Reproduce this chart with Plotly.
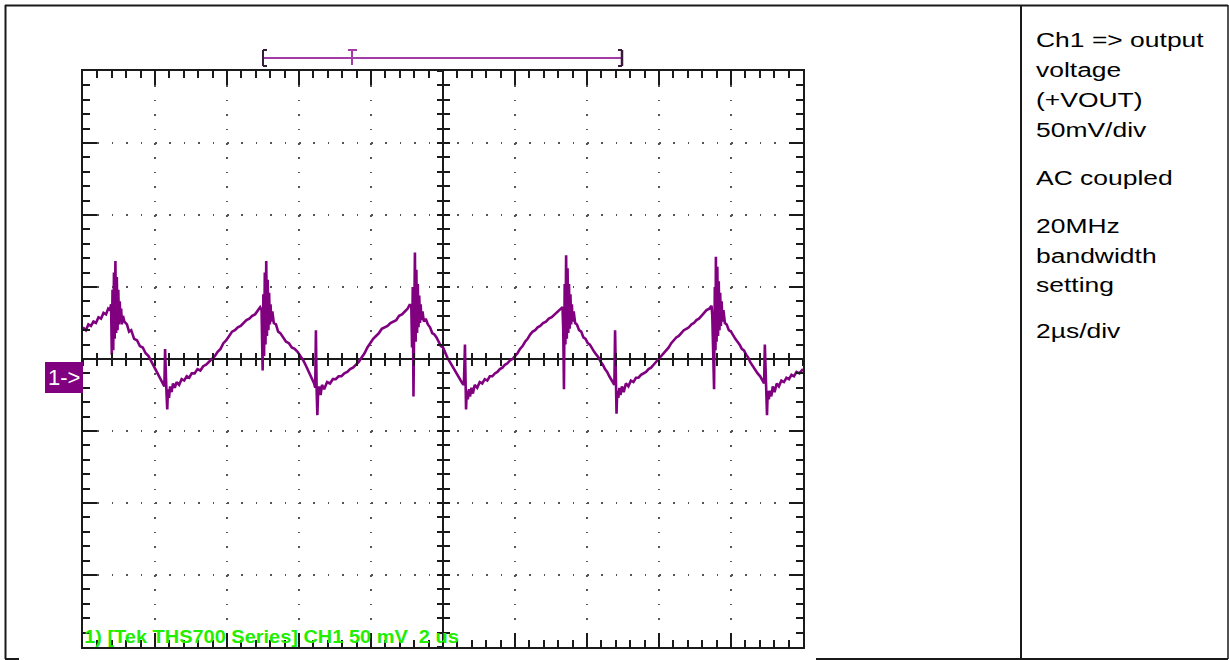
import json
import plotly.graph_objects as go

W, H = 1229, 660

# ---------------- data ----------------
time_us = [
    -10.00, -9.92, -9.85, -9.78, -9.71, -9.64, -9.57, -9.50, -9.43, -9.36, -9.30, -9.25, -9.22,
    -9.20, -9.18, -9.16, -9.14, -9.12, -9.10, -9.08, -9.06, -9.04, -9.02, -9.00, -8.98, -8.96, -8.94, -8.92, -8.89, -8.85,
    -8.78, -8.72, -8.66, -8.58, -8.50, -8.42, -8.34, -8.26, -8.18, -8.10, -8.02, -7.94, -7.86, -7.80,
    -7.74, -7.72, -7.70, -7.68, -7.66, -7.64, -7.61, -7.58, -7.54, -7.50, -7.45,
    -7.40, -7.33, -7.26, -7.19, -7.12, -7.05, -6.98, -6.90, -6.82, -6.74, -6.66, -6.58, -6.50, -6.42, -6.34, -6.26,
    -6.18, -6.10, -6.02, -5.94, -5.86, -5.78, -5.70, -5.62, -5.54, -5.46, -5.38, -5.30, -5.22, -5.14, -5.08,
    -5.04, -5.01, -4.99, -4.97, -4.95, -4.93, -4.91, -4.89, -4.87, -4.85, -4.83, -4.81, -4.79, -4.77, -4.74, -4.70,
    -4.64, -4.58, -4.52, -4.44, -4.36, -4.28, -4.20, -4.12, -4.04, -3.96, -3.88, -3.80, -3.72, -3.64, -3.58,
    -3.55, -3.53, -3.51, -3.49, -3.47, -3.44, -3.40, -3.36, -3.30,
    -3.22, -3.14, -3.06, -2.98, -2.90, -2.82, -2.74, -2.66, -2.58, -2.50, -2.42, -2.34, -2.26, -2.18, -2.10,
    -2.02, -1.94, -1.86, -1.78, -1.70, -1.62, -1.54, -1.46, -1.38, -1.30, -1.22, -1.14, -1.06, -0.98, -0.92,
    -0.88, -0.86, -0.84, -0.82, -0.80, -0.78, -0.76, -0.74, -0.72, -0.70, -0.68, -0.66, -0.64, -0.62, -0.60, -0.57, -0.53, -0.48,
    -0.42, -0.36, -0.30, -0.24, -0.18, -0.12, -0.06, 0.00, 0.06, 0.12, 0.19, 0.26, 0.33, 0.40, 0.47, 0.54, 0.58,
    0.61, 0.63, 0.64, 0.66, 0.69, 0.72, 0.75, 0.79, 0.83, 0.88,
    0.95, 1.02, 1.09, 1.16, 1.23, 1.30, 1.37, 1.44, 1.51, 1.58, 1.65, 1.72, 1.79, 1.86, 1.93, 2.00, 2.07,
    2.14, 2.21, 2.28, 2.35, 2.42, 2.49, 2.56, 2.63, 2.70, 2.78, 2.86, 2.94, 3.02, 3.10, 3.18, 3.26, 3.32,
    3.34, 3.36, 3.38, 3.40, 3.42, 3.44, 3.46, 3.48, 3.50, 3.52, 3.54, 3.56, 3.58, 3.60, 3.63, 3.67,
    3.72, 3.78, 3.84, 3.90, 3.96, 4.02, 4.08, 4.14, 4.20, 4.26, 4.32, 4.38, 4.44, 4.50, 4.56, 4.62, 4.70, 4.76,
    4.78, 4.80, 4.82, 4.84, 4.87, 4.90, 4.93, 4.97, 5.02, 5.08,
    5.15, 5.22, 5.29, 5.36, 5.43, 5.50, 5.57, 5.64, 5.71, 5.78, 5.85, 5.92, 5.99, 6.06, 6.13, 6.20, 6.27,
    6.34, 6.41, 6.48, 6.55, 6.62, 6.69, 6.76, 6.83, 6.90, 6.97, 7.04, 7.11, 7.18, 7.25, 7.32, 7.40, 7.46,
    7.48, 7.50, 7.53, 7.55, 7.57, 7.58, 7.60, 7.62, 7.64, 7.66, 7.68, 7.70, 7.72, 7.74, 7.76, 7.79, 7.83,
    7.88, 7.94, 8.00, 8.06, 8.12, 8.18, 8.24, 8.30, 8.36, 8.42, 8.48, 8.53, 8.60, 8.67, 8.74, 8.81, 8.88, 8.92,
    8.94, 8.97, 9.00, 9.02, 9.05, 9.08, 9.12, 9.16, 9.21, 9.27,
    9.33, 9.40, 9.47, 9.54, 9.61, 9.68, 9.75, 9.82, 9.90, 10.00,
]
ch1_mV = [
    22, 20, 24, 23, 26, 25, 29, 28, 32, 31, 35, 34, 38,
    3, 48, 6, 60, 14, 68, 18, 57, 20, 48, 24, 40, 26, 35, 24, 30, 26,
    24, 19, 20, 14, 13, 9, 8, 4, 2, -2, -5, -9, -13, -16,
    -19, 7, -20, -24, -35, -21, -27, -19, -23, -17, -20,
    -16, -18, -14, -15, -12, -13, -10, -10, -7, -8, -5, -4, -2, 0, 2, 5,
    7, 11, 13, 16, 19, 20, 22, 23, 25, 27, 28, 30, 31, 34, 36,
    34, -8, 45, 2, 60, 10, 68, 16, 55, 20, 46, 24, 38, 26, 33, 25,
    24, 19, 18, 15, 12, 11, 8, 7, 5, 2, -1, -5, -9, -13, -17,
    -20, 20, -22, -39, -24, -19, -25, -18, -21,
    -16, -17, -14, -14, -12, -12, -10, -9, -7, -6, -4, -2, 1, 4, 8,
    11, 14, 16, 18, 21, 22, 23, 25, 26, 27, 30, 31, 33, 35, 38,
    36, 8, 50, -26, 60, 74, 12, 62, 18, 52, 22, 44, 25, 38, 27, 33, 26, 28,
    24, 22, 18, 17, 15, 12, 9, 8, 4, 1, -2, -5, -8, -12, -14, -17, -18,
    10, -20, -35, -22, -28, -21, -26, -20, -24, -18,
    -20, -16, -17, -14, -15, -12, -12, -10, -9, -7, -6, -4, -3, -1, 0, 2, 4,
    7, 9, 12, 14, 17, 19, 20, 22, 23, 25, 26, 28, 29, 31, 33, 35, 36,
    20, -21, 52, 10, 72, 14, 63, 18, 52, 21, 45, 24, 38, 26, 33, 25,
    24, 20, 19, 15, 14, 11, 10, 7, 5, 3, 1, -2, -4, -7, -9, -12, -15, -18,
    20, -21, -38, -22, -27, -20, -25, -19, -23, -17,
    -19, -15, -16, -13, -13, -11, -10, -9, -7, -6, -4, -2, 0, 2, 4, 6, 8,
    11, 13, 15, 16, 18, 20, 21, 22, 24, 25, 27, 28, 30, 32, 34, 35, 37,
    30, 8, -21, 50, 6, 71, 12, 64, 16, 54, 20, 46, 23, 40, 26, 34, 25,
    24, 20, 19, 16, 14, 12, 10, 7, 6, 3, 1, -2, -5, -8, -10, -12, -15, -17,
    10, -20, -39, -22, -28, -22, -26, -19, -23, -17,
    -19, -15, -16, -13, -14, -11, -12, -9, -10, -7,
]

X_RANGE = [-10, 10]      # 2 us/div, 10 divisions
Y_RANGE = [-200, 200]    # 50 mV/div, 8 divisions

panel_lines = ["Ch1 => output", "voltage", "(+VOUT)", "50mV/div",
               "AC coupled", "20MHz", "bandwidth", "setting", "2µs/div"]
panel_baselines_px = [46.7, 76.7, 106.7, 136.7, 185.0, 232.7, 262.7, 292.0, 337.5]
scope_label = "1) [Tek THS700 Series] CH1 50 mV  2 us"
marker_label = "1->"

# ---------------- layout geometry (pixels) ----------------
GL, GR, GT, GB = 83, 803, 71, 647
CX, CY = (GL + GR) / 2, (GT + GB) / 2


def fx(p):
    return p / W


def fy(p):
    return 1 - p / H


TRACE = "#800080"
INK = "#1a1a1a"

fig = go.Figure()
fig.add_trace(go.Scatter(x=time_us, y=ch1_mV, mode="lines",
                         line=dict(color=TRACE, width=2.6), hoverinfo="skip",
                         showlegend=False))
# dummy traces to register the centre-cross tick axes
for xa, ya in [("x2", "y"), ("x3", "y"), ("x", "y2"), ("x", "y3")]:
    fig.add_trace(go.Scatter(x=[None], y=[None], xaxis=xa, yaxis=ya,
                             showlegend=False, hoverinfo="skip"))

common = dict(showticklabels=False, showline=True, linecolor=INK, linewidth=2,
              mirror="ticks", ticks="inside", tickcolor=INK, tickwidth=2, ticklen=14,
              showgrid=True, gridcolor="#555555", gridwidth=1.5, griddash="1.5px,12.9px",
              zeroline=True, zerolinecolor=INK, zerolinewidth=2, fixedrange=True)

fig.update_layout(
    width=W, height=H, margin=dict(l=0, r=0, t=0, b=0),
    paper_bgcolor="white", plot_bgcolor="white", showlegend=False,
    xaxis=dict(domain=[fx(GL), fx(GR)], range=X_RANGE, dtick=2, tick0=0,
               minor=dict(dtick=0.4, ticks="inside", ticklen=7, tickwidth=2,
                          tickcolor=INK, showgrid=False), **common),
    yaxis=dict(domain=[fy(GB), fy(GT)], range=Y_RANGE, dtick=50, tick0=0,
               minor=dict(dtick=10, ticks="inside", ticklen=7, tickwidth=2,
                          tickcolor=INK, showgrid=False), **common),
)
center_tick = dict(showticklabels=False, showline=False, showgrid=False, zeroline=False,
                   tickcolor=INK, tickwidth=1.5, ticklen=6, fixedrange=True)
fig.update_layout(
    xaxis2=dict(overlaying="x", anchor="free", position=fy(CY), range=X_RANGE,
                dtick=0.4, tick0=0, ticks="inside", **center_tick),
    xaxis3=dict(overlaying="x", anchor="free", position=fy(CY), range=X_RANGE,
                dtick=0.4, tick0=0, ticks="outside", **center_tick),
    yaxis2=dict(overlaying="y", anchor="free", position=fx(CX), range=Y_RANGE,
                dtick=10, tick0=0, ticks="inside", **center_tick),
    yaxis3=dict(overlaying="y", anchor="free", position=fx(CX), range=Y_RANGE,
                dtick=10, tick0=0, ticks="outside", **center_tick),
)

shapes = []


def seg(x0, y0, x1, y1, color=INK, width=2):
    shapes.append(dict(type="line", xref="paper", yref="paper",
                       x0=fx(x0), y0=fy(y0), x1=fx(x1), y1=fy(y1),
                       line=dict(color=color, width=width)))


# table / frame lines
seg(5, 5.5, 1228, 5.5)
seg(5.5, 5, 5.5, 659)
seg(5, 659, 19, 659)
seg(816, 659, 1228, 659)
seg(1021, 5, 1021, 659)
seg(1228, 5, 1228, 659, width=1.5)

# trigger / record bar at the top
BAR = "#a33ba8"
DARK = "#3a1a3a"
seg(263, 58, 622, 58, BAR, 2)
seg(263, 50, 263, 66, DARK, 2)
seg(263, 50, 267, 50, DARK, 2)
seg(263, 66, 267, 66, DARK, 2)
seg(622, 50, 622, 66, DARK, 2.5)
seg(618, 50, 622, 50, DARK, 2)
seg(618, 66, 622, 66, DARK, 2)
seg(352, 50, 352, 65, BAR, 2)
seg(348, 50, 357, 50, BAR, 2)

# channel ground marker box
shapes.append(dict(type="rect", xref="paper", yref="paper",
                   x0=fx(45), x1=fx(83), y0=fy(393), y1=fy(362),
                   fillcolor="#800080", line=dict(width=0), layer="above"))
fig.update_layout(shapes=shapes)

ARIAL = "Arial, Liberation Sans, sans-serif"
annotations = []
scale_map = {}
for txt, base in zip(panel_lines, panel_baselines_px):
    scale_map[str(len(annotations))] = 1.26
    annotations.append(dict(xref="paper", yref="paper", x=fx(1034), y=fy(base - 7.3),
                            xanchor="left", yanchor="middle", showarrow=False,
                            text=txt, font=dict(family=ARIAL, size=21, color="black")))
scale_map[str(len(annotations))] = 1.11
annotations.append(dict(xref="paper", yref="paper", x=fx(82), y=fy(636.5),
                        xanchor="left", yanchor="middle", showarrow=False,
                        text=scope_label,
                        font=dict(family=ARIAL, size=18, color="#22ee00", weight="bold")))
annotations.append(dict(xref="paper", yref="paper", x=fx(64), y=fy(377.5),
                        xanchor="center", yanchor="middle", showarrow=False,
                        text=marker_label, font=dict(family=ARIAL, size=22, color="white")))
fig.update_layout(annotations=annotations)

post = """
var gd = document.getElementById('{plot_id}');
var sx = SCALE_MAP;
function stretchText(){
  gd.querySelectorAll('g.annotation').forEach(function(g){
    var i = g.getAttribute('data-index');
    if (sx[i] !== undefined){
      var t = g.querySelector('text.annotation-text');
      if (t){
        t.style.transformBox = 'fill-box';
        t.style.transformOrigin = '0% 50%';
        t.style.transform = 'scaleX(' + sx[i] + ')';
      }
    }
  });
}
stretchText();
gd.on('plotly_afterplot', stretchText);
""".replace("SCALE_MAP", json.dumps(scale_map))

fig.write_html("out.html", post_script=post, config={"displayModeBar": False})
